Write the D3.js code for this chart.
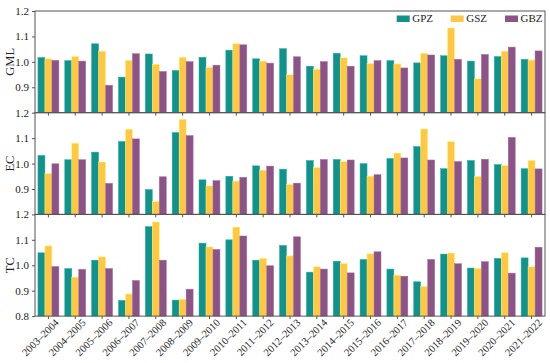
<!DOCTYPE html>
<html lang="en">
<head>
  <meta charset="UTF-8" />
  <title>GML / EC / TC</title>
  <script src="https://d3js.org/d3.v7.min.js"></script>
  <style>
    body { margin: 0; background: #fff; }
    svg { display: block; }
    svg text, .tick text { font-family: "Liberation Serif", "Times New Roman", serif; fill: #222; }
    .tick text { font-size: 11px; }
    .domain, .tick line { stroke: #555; }
  </style>
</head>
<body>
  <svg width="550" height="363"></svg>

  <script>
    const periods = [
      "2003–2004", "2004–2005", "2005–2006", "2006–2007", "2007–2008",
      "2008–2009", "2009–2010", "2010–2011", "2011–2012", "2012–2013",
      "2013–2014", "2014–2015", "2015–2016", "2016–2017", "2017–2018",
      "2018–2019", "2019–2020", "2020–2021", "2021–2022"
    ];
    const seriesNames = ["GPZ", "GSZ", "GBZ"];
    const colors = ["#16918a", "#fdc84a", "#8a5584"];

    const gmlGPZ = [1.017, 1.005, 1.071, 0.940, 1.031, 0.966, 1.018, 1.046, 1.012, 1.052, 0.983, 1.034, 1.024, 1.005, 0.996, 1.024, 1.003, 1.021, 1.010];
    const gmlGSZ = [1.012, 1.021, 1.042, 1.006, 0.990, 1.018, 0.978, 1.071, 1.003, 0.949, 0.971, 1.016, 0.993, 0.992, 1.034, 1.133, 0.933, 1.042, 1.007];
    const gmlGBZ = [1.006, 1.003, 0.908, 1.032, 0.962, 1.001, 0.987, 1.067, 0.995, 1.020, 1.001, 0.983, 1.005, 0.976, 1.027, 1.010, 1.029, 1.058, 1.043];

    const ecGPZ = [1.032, 1.015, 1.045, 1.087, 0.898, 1.122, 0.936, 0.950, 0.991, 0.978, 1.012, 1.016, 1.000, 1.020, 1.067, 0.980, 1.012, 0.996, 0.980];
    const ecGSZ = [0.960, 1.080, 1.006, 1.135, 0.850, 1.174, 0.912, 0.931, 0.974, 0.918, 0.984, 1.008, 0.950, 1.041, 1.136, 1.086, 0.949, 0.992, 1.012];
    const ecGBZ = [0.999, 1.015, 0.922, 1.097, 0.948, 1.110, 0.933, 0.946, 0.990, 0.923, 1.016, 1.014, 0.956, 1.022, 1.014, 1.008, 1.017, 1.103, 0.979];

    const tcGPZ = [1.049, 0.987, 1.020, 0.862, 1.152, 0.863, 1.087, 1.100, 1.020, 1.078, 0.973, 1.016, 1.023, 0.985, 0.935, 1.044, 0.989, 1.027, 1.029];
    const tcGSZ = [1.076, 0.953, 1.033, 0.887, 1.170, 0.866, 1.072, 1.150, 1.027, 1.037, 0.994, 1.007, 1.045, 0.961, 0.917, 1.048, 0.987, 1.049, 0.994];
    const tcGBZ = [0.995, 0.984, 0.987, 0.940, 1.020, 0.906, 1.062, 1.115, 0.998, 1.112, 0.985, 0.970, 1.053, 0.957, 1.023, 1.006, 1.014, 0.969, 1.071];

    const panels = [
      { label: "GML", series: [gmlGPZ, gmlGSZ, gmlGBZ] },
      { label: "EC", series: [ecGPZ, ecGSZ, ecGBZ] },
      { label: "TC", series: [tcGPZ, tcGSZ, tcGBZ] }
    ];

    const svg = d3.select("svg");
    const mLeft = 35, mRight = 545, mTop = 11, panelH = 101.7;

    const x0 = d3.scaleBand()
      .domain(periods)
      .range([mLeft, mRight])
      .paddingInner(0.22)
      .paddingOuter(0.11);

    const x1 = d3.scaleBand()
      .domain(seriesNames)
      .range([0, x0.bandwidth()]);

    panels.forEach((p, i) => {
      const y0 = mTop + i * panelH;
      const y = d3.scaleLinear().domain([0.8, 1.2]).range([y0 + panelH, y0]);
      const g = svg.append("g");

      // bars
      p.series.forEach((vals, s) => {
        g.append("g")
          .selectAll("rect")
          .data(vals)
          .join("rect")
          .attr("x", (d, k) => x0(periods[k]) + x1(seriesNames[s]))
          .attr("width", x1.bandwidth())
          .attr("y", d => y(d))
          .attr("height", d => y(0.8) - y(d))
          .attr("fill", colors[s])
          .attr("stroke", d3.color(colors[s]).brighter(0.6))
          .attr("stroke-width", 0.5);
      });

      // y axis
      const yTicks = i === panels.length - 1 ? [0.8, 0.9, 1.0, 1.1, 1.2] : [0.9, 1.0, 1.1, 1.2];
      g.append("g")
        .attr("transform", `translate(${mLeft},0)`)
        .call(d3.axisLeft(y).tickValues(yTicks).tickFormat(d3.format(".1f")).tickSize(3).tickSizeOuter(0))
        .call(a => a.select(".domain").remove());

      // x axis ticks
      const xa = g.append("g")
        .attr("transform", `translate(0,${y(0.8)})`)
        .call(d3.axisBottom(x0).tickSize(3).tickSizeOuter(0).tickFormat(""));
      xa.select(".domain").remove();

      if (i === panels.length - 1) {
        xa.selectAll(".tick text")
          .text(d => d)
          .attr("text-anchor", "end")
          .style("font-size", "10.5px")
          .attr("transform", "translate(5,1) rotate(-45)")
          .attr("y", 5)
          .attr("dy", "0.35em")
          .attr("x", 0);
      }

      // frame
      g.append("rect")
        .attr("x", mLeft)
        .attr("y", y0)
        .attr("width", mRight - mLeft)
        .attr("height", panelH)
        .attr("fill", "none")
        .attr("stroke", "#555")
        .attr("stroke-width", 1);

      // panel label
      g.append("text")
        .attr("transform", `translate(14,${y0 + panelH / 2}) rotate(-90)`)
        .attr("text-anchor", "middle")
        .attr("font-size", "12.5px")
        .text(p.label);
    });

    // legend
    const legendX = [396.7, 450.7, 505];
    const legend = svg.append("g");
    seriesNames.forEach((name, s) => {
      legend.append("rect")
        .attr("x", legendX[s])
        .attr("y", 15.5)
        .attr("width", 13)
        .attr("height", 6.5)
        .attr("fill", colors[s]);
      legend.append("text")
        .attr("x", legendX[s] + 15.5)
        .attr("y", 22.3)
        .attr("font-size", "11px")
        .text(name);
    });
  </script>
</body>
</html>
